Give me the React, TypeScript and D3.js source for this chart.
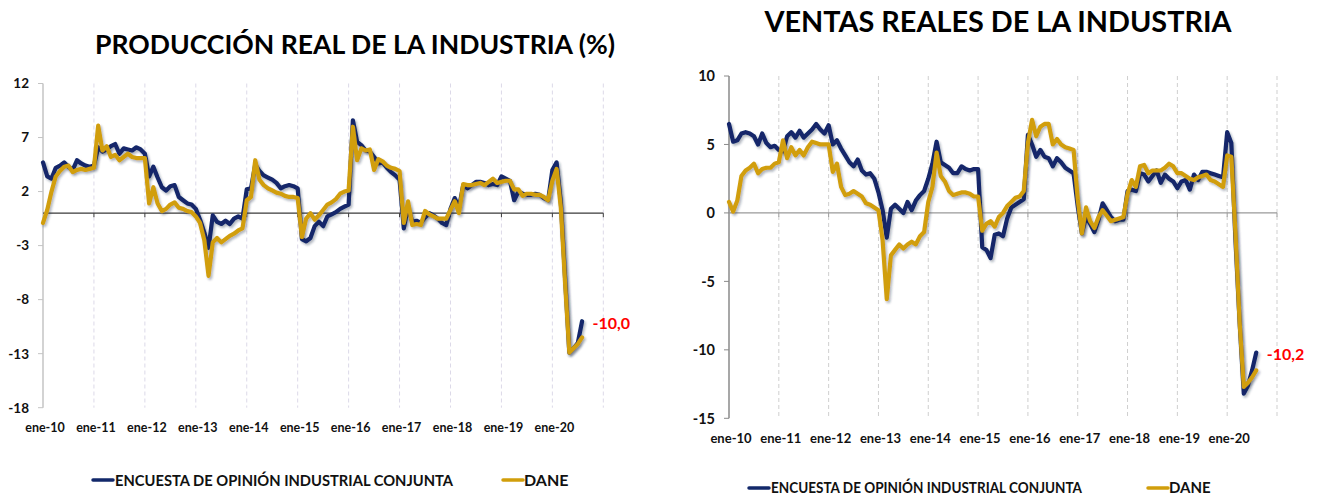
import React from 'react';
import * as d3 from 'd3';

// month index 0 = ene-10, monthly through ago-20
const yearLabels = ['ene-10', 'ene-11', 'ene-12', 'ene-13', 'ene-14', 'ene-15', 'ene-16', 'ene-17', 'ene-18', 'ene-19', 'ene-20'];

const produccionEncuesta = [
  4.7, 3.4, 3.2, 4.2, 4.4, 4.7, 4.3, 4.0, 4.9, 4.6, 4.4, 4.3,
  4.4, 6.1, 5.7, 5.9, 6.2, 6.4, 5.5, 6.0, 5.9, 5.8, 6.1, 5.9,
  5.5, 3.4, 4.3, 3.3, 2.4, 2.1, 2.5, 2.6, 1.5, 1.2, 0.9, 0.8,
  0.4, -0.6, -1.8, -3.2, -0.2, -0.8, -1.0, -0.7, -1.0, -0.5, -0.3, -0.5,
  2.2, 2.3, 4.5, 3.9, 3.5, 3.3, 3.1, 2.8, 2.3, 2.5, 2.6, 2.5,
  2.3, -2.4, -2.6, -2.3, -1.2, -0.8, -1.2, -0.3, -0.1, 0.1, 0.4, 0.6,
  0.8, 8.6, 6.6, 6.3, 5.8, 5.7, 5.2, 4.6, 4.7, 4.2, 3.8, 3.5,
  3.1, -1.4, 0.6, -0.8, -0.7, -0.9, -0.4, 0.0, -0.2, -0.5, -0.9, -1.1,
  0.4, 1.4, 0.5, 2.6, 2.3, 2.6, 2.9, 2.9, 2.8, 2.6, 2.7, 2.6,
  3.4, 3.2, 3.0, 1.2, 2.0, 1.8, 1.7, 1.7, 1.8, 1.7, 1.4, 1.2,
  4.0, 4.7, 1.0, -6.0, -12.9, -12.5, -12.0, -10.0,
];

const produccionDane = [
  -0.9, 0.3, 2.0, 3.4, 3.9, 4.3, 4.4, 3.8, 4.0, 4.1, 4.0, 4.1,
  4.2, 8.1, 5.8, 6.2, 5.2, 5.4, 4.9, 5.2, 5.5, 5.2, 5.1, 5.1,
  5.1, 0.9, 2.4, 0.9, 0.2, 0.4, 0.8, 1.0, 0.5, 0.4, 0.2, 0.1,
  -0.3, -0.9, -2.5, -5.8, -2.7, -2.3, -2.7, -2.4, -2.1, -1.9, -1.6, -1.4,
  1.2, 1.5, 4.9, 3.1, 2.6, 2.3, 2.1, 1.9, 1.8, 1.6, 1.5, 1.5,
  1.4, -2.2, -0.5, 0.0, -0.6, -0.2, 0.3, 0.8, 1.0, 1.3, 1.8, 2.0,
  2.1, 8.0, 4.9, 6.0, 5.8, 5.9, 4.0, 5.0, 4.8, 4.4, 4.2, 4.1,
  3.9, -0.9, 1.1, -1.1, -1.0, -1.1, 0.2, -0.1, -0.3, -0.5, -0.5, -0.5,
  0.3, 1.1, 0.0, 2.7, 2.6, 2.6, 2.7, 2.8, 2.6, 2.9, 3.2, 2.8,
  2.9, 3.0, 3.0, 2.2, 2.2, 1.6, 1.8, 1.8, 1.7, 1.7, 1.5, 1.2,
  3.0, 4.1, 0.5, -6.5, -12.9, -12.5, -12.1, -11.5,
];

const ventasEncuesta = [
  6.5, 5.2, 5.3, 5.8, 5.9, 5.8, 5.6, 5.0, 5.8, 5.1, 4.8, 4.9,
  4.6, 4.5, 5.6, 5.9, 5.5, 6.0, 5.5, 5.8, 6.1, 6.5, 6.1, 5.8,
  6.4, 5.0, 5.3, 4.7, 4.2, 3.7, 3.4, 3.9, 3.1, 2.8, 2.9, 2.5,
  1.5, 0.2, -1.8, 0.3, 0.6, 0.3, 0.0, 0.8, 0.2, 0.9, 1.3, 1.6,
  2.5, 3.6, 5.2, 3.7, 3.5, 3.3, 2.9, 2.9, 3.4, 3.2, 3.1, 3.2,
  3.2, -2.5, -2.7, -3.3, -1.6, -1.5, -1.7, -0.4, 0.4, 0.6, 0.8, 1.0,
  5.7, 5.0, 4.1, 4.6, 4.1, 4.0, 3.4, 4.0, 3.7, 3.3, 3.1, 2.9,
  0.5, -1.5, -0.3, -0.8, -1.4, -0.5, 0.7, 0.2, -0.3, -0.6, -0.5, -0.5,
  1.6, 1.7, 1.6, 2.9, 2.8, 2.3, 2.7, 3.1, 2.2, 2.8, 2.5, 2.3,
  1.8, 2.3, 2.4, 1.7, 2.8, 2.4, 3.0, 3.0, 2.9, 2.8, 2.7, 2.6,
  5.9, 5.1, -2.0, -8.0, -13.2, -12.6, -11.5, -10.2,
];

const ventasDane = [
  0.8, 0.1, 0.9, 2.7, 3.1, 3.3, 3.6, 2.9, 3.2, 3.3, 3.3, 3.6,
  3.7, 5.3, 4.0, 4.8, 4.2, 4.6, 4.2, 4.8, 5.2, 5.1, 5.0, 5.0,
  5.0, 3.0, 3.6, 1.9, 1.3, 1.4, 1.6, 1.4, 1.2, 0.7, 0.6, 0.4,
  0.2, -2.0, -6.3, -3.1, -2.7, -2.3, -2.6, -2.3, -2.1, -2.3, -1.7, -1.4,
  0.8, 1.9, 4.4, 2.7, 2.3, 1.6, 1.3, 1.4, 1.5, 1.5, 1.4, 1.2,
  1.2, -1.3, -0.8, -0.6, -1.0, -0.3, 0.0, 0.5, 0.8, 1.1, 1.2, 1.6,
  5.1, 6.8, 5.6, 6.3, 6.5, 6.5, 5.0, 5.4, 5.0, 4.8, 4.7, 4.6,
  1.0, -1.5, 0.4, -0.6, -1.1, -0.3, 0.2, -0.2, -0.6, -0.5, -0.4, -0.3,
  1.4, 2.4, 1.9, 3.4, 3.5, 2.9, 3.1, 3.1, 3.1, 3.3, 3.6, 3.4,
  2.9, 2.9, 2.7, 2.5, 2.4, 2.6, 2.7, 2.8, 2.4, 2.3, 2.1, 1.9,
  4.2, 4.1, -1.5, -8.0, -12.7, -12.4, -12.0, -11.5,
];

const produccionTicks = [-18, -13, -8, -3, 2, 7, 12];
const ventasTicks = [-15, -10, -5, 0, 5, 10];

const NAVY = '#12286A';
const GOLD = '#D19E0B';
const FONT = 'Lato, "Open Sans", sans-serif';

const Panel = ({ x0, x1, yTop, yBottom, domain, ticks, blue, gold, axisColor, zeroColor, gridColor,
  yLabelSize, xLabelSize, xLabelY, lastLabel }) => {
  const x = d3.scaleLinear().domain([0, 132]).range([x0, x1]);
  const y = d3.scaleLinear().domain(domain).range([yBottom, yTop]);
  const path = d3.line<number>().x((d, i) => x(i)).y(d => y(d));
  const years = d3.range(12, 133, 12);
  const last = blue.length - 1;

  return (
    <g>
      {years.map(m => (
        <line key={'g' + m} x1={x(m)} x2={x(m)} y1={yTop} y2={yBottom}
          stroke={gridColor} strokeWidth={1} strokeDasharray="4,3" />
      ))}
      <line x1={x0} x2={x0} y1={yTop} y2={yBottom} stroke={axisColor} strokeWidth={1.5} />
      {ticks.map(t => (
        <g key={'t' + t}>
          <line x1={x0 - 5} x2={x0} y1={y(t)} y2={y(t)} stroke={axisColor} strokeWidth={1} />
          <text x={x0 - 14} y={y(t)} dy="0.36em" textAnchor="end" fontFamily={FONT}
            fontWeight={700} fontSize={yLabelSize} fill="#111">{t}</text>
        </g>
      ))}
      <line x1={x0} x2={x1} y1={y(0)} y2={y(0)} stroke={zeroColor} strokeWidth={1.2} />
      {years.map(m => (
        <line key={'k' + m} x1={x(m)} x2={x(m)} y1={y(0)} y2={y(0) + 4} stroke={zeroColor} strokeWidth={1} />
      ))}
      {yearLabels.map((lab, i) => (
        <text key={lab} x={x(i * 12) + 2} y={xLabelY} dy="0.36em" textAnchor="middle"
          fontFamily={FONT} fontWeight={700} fontSize={xLabelSize} fill="#111">{lab}</text>
      ))}
      <path d={path(blue)} fill="none" stroke={NAVY} strokeWidth={4.2}
        strokeLinejoin="round" strokeLinecap="round" filter="url(#shadow)" />
      <path d={path(gold)} fill="none" stroke={GOLD} strokeWidth={4.2}
        strokeLinejoin="round" strokeLinecap="round" filter="url(#shadow)" />
      <text x={x(last) + 10.5} y={y(blue[last]) + 1.5} dy="0.36em" fontFamily={FONT}
        fontWeight={700} fontSize={16} fill="#FF0000">{lastLabel}</text>
    </g>
  );
};

const Legend = ({ x, y, fontSize, width, daneX }) => (
  <g fontFamily={FONT} fontWeight={700} fontSize={fontSize} fill="#111">
    <line x1={x} x2={x + 20} y1={y} y2={y} stroke={NAVY} strokeWidth={3.5} strokeLinecap="round" />
    <text x={x + 22} y={y} dy="0.36em" textLength={width} lengthAdjust="spacingAndGlyphs">
      ENCUESTA DE OPINIÓN INDUSTRIAL CONJUNTA
    </text>
    <line x1={daneX} x2={daneX + 20} y1={y} y2={y} stroke={GOLD} strokeWidth={3.5} strokeLinecap="round" />
    <text x={daneX + 21} y={y} dy="0.36em">DANE</text>
  </g>
);

export default function App() {
  return (
    <svg width={1317} height={502} style={{ position: 'absolute', left: 0, top: 0, background: '#fff' }}>
      <defs>
        <filter id="shadow" x="-5%" y="-5%" width="110%" height="110%">
          <feDropShadow dx="1.5" dy="2" stdDeviation="1.3" floodColor="#1d2b40" floodOpacity="0.35" />
        </filter>
      </defs>
      <text x={355} y={45} dy="0.36em" textAnchor="middle" fontFamily={FONT} fontWeight={700}
        fontSize={26} fill="#000" textLength={520} lengthAdjust="spacingAndGlyphs">
        PRODUCCIÓN REAL DE LA INDUSTRIA (%)
      </text>
      <text x={998} y={22} dy="0.36em" textAnchor="middle" fontFamily={FONT} fontWeight={700}
        fontSize={28} fill="#000" textLength={467} lengthAdjust="spacingAndGlyphs">
        VENTAS REALES DE LA INDUSTRIA
      </text>
      <Panel x0={43} x1={603.3} yTop={83.5} yBottom={407.7} domain={[-18, 12]} ticks={produccionTicks}
        blue={produccionEncuesta} gold={produccionDane} axisColor="#C4C4C4" zeroColor="#3A3A3A"
        gridColor="#DCD9E8" yLabelSize={13.5} xLabelSize={12.5} xLabelY={427} lastLabel="-10,0" />
      <Panel x0={729} x1={1277} yTop={76} yBottom={418.3} domain={[-15, 10]} ticks={ventasTicks}
        blue={ventasEncuesta} gold={ventasDane} axisColor="#8A8A8A" zeroColor="#9A9A9A"
        gridColor="#CFCFCF" yLabelSize={14.5} xLabelSize={13} xLabelY={438} lastLabel="-10,2" />
      <Legend x={93} y={480} fontSize={16} width={338} daneX={503} />
      <Legend x={749} y={488} fontSize={15} width={311} daneX={1148} />
    </svg>
  );
}
